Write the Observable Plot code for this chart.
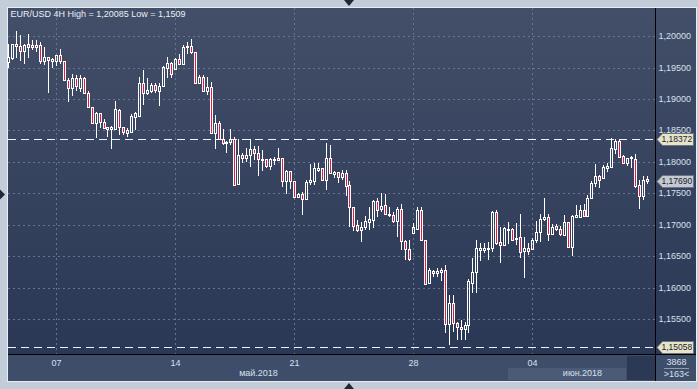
<!DOCTYPE html>
<html>
<head>
<meta charset="utf-8">
<script src="https://cdn.jsdelivr.net/npm/d3@7"></script>
<script src="https://cdn.jsdelivr.net/npm/@observablehq/plot@0.6"></script>
<style>
  html, body { margin: 0; padding: 0; background: #c2cdd9; }
  #chart { width: 698px; height: 389px; overflow: hidden; }
</style>
</head>
<body>
<div id="chart"></div>
<script>
// ---- data (EUR/USD, 4H candles, 3 May – 8 Jun 2018) ----
const symbol = "EUR/USD";
const timeframe = "4H";
const open = [
1.1959,1.1965,1.1987,1.1984,1.1977,1.1987,1.1986,1.1982,1.1986,1.1961,
1.1966,1.1960,1.1960,1.1970,1.1960,1.1930,1.1918,1.1933,1.1918,1.1934,
1.1909,1.1887,1.1862,1.1877,1.1863,1.1853,1.1853,1.1853,1.1883,1.1855,
1.1851,1.1847,1.1871,1.1873,1.1925,1.1909,1.1913,1.1922,1.1913,1.1920,
1.1950,1.1957,1.1947,1.1963,1.1956,1.1982,1.1984,1.1974,1.1926,1.1935,
1.1913,1.1919,1.1846,1.1862,1.1837,1.1832,1.1831,1.1837,1.1765,1.1811,
1.1807,1.1811,1.1820,1.1814,1.1803,1.1804,1.1794,1.1803,1.1806,1.1806,
1.1769,1.1785,1.1769,1.1745,1.1749,1.1741,1.1768,1.1770,1.1787,1.1790,
1.1772,1.1807,1.1781,1.1784,1.1776,1.1782,1.1763,1.1728,1.1700,1.1692,
1.1697,1.1705,1.1708,1.1738,1.1725,1.1732,1.1718,1.1716,1.1707,1.1726,
1.1675,1.1661,1.1687,1.1693,1.1724,1.1676,1.1607,1.1627,1.1623,1.1626,
1.1628,1.1542,1.1576,1.1545,1.1538,1.1534,1.1541,1.1608,1.1626,1.1660,
1.1660,1.1662,1.1664,1.1721,1.1673,1.1668,1.1692,1.1693,1.1677,1.1681,
1.1659,1.1664,1.1661,1.1676,1.1689,1.1709,1.1713,1.1686,1.1698,1.1693,
1.1684,1.1704,1.1665,1.1713,1.1713,1.1724,1.1714,1.1742,1.1766,1.1777,
1.1774,1.1790,1.1792,1.1821,1.1833,1.1809,1.1799,1.1806,1.1804,1.1763,
1.1746,1.1773];
const high = [
1.1987,1.1988,1.20085,1.2002,1.1988,1.2003,1.1994,1.1994,1.1990,1.1983,
1.1967,1.1965,1.1970,1.1979,1.1960,1.1933,1.1939,1.1938,1.1938,1.1935,
1.1912,1.1888,1.1879,1.1878,1.1869,1.1856,1.1857,1.1897,1.1884,1.1856,
1.1854,1.1876,1.1880,1.1935,1.1946,1.1933,1.1925,1.1925,1.1925,1.1952,
1.1967,1.1959,1.1965,1.1971,1.1986,1.1991,1.1995,1.1975,1.1938,1.1938,
1.1935,1.1927,1.1874,1.1865,1.1852,1.1833,1.1853,1.1839,1.1837,1.1814,
1.1822,1.1837,1.1825,1.1825,1.1819,1.1805,1.1806,1.1808,1.1822,1.1806,
1.1787,1.1786,1.1769,1.1750,1.1753,1.1772,1.1796,1.1798,1.1798,1.1790,
1.1830,1.1827,1.1786,1.1784,1.1787,1.1787,1.1769,1.1728,1.1708,1.1705,
1.1714,1.1729,1.1740,1.1742,1.1750,1.1749,1.1728,1.1721,1.1729,1.1734,
1.1676,1.1676,1.1703,1.1728,1.1728,1.1676,1.1631,1.1628,1.1631,1.1631,
1.1636,1.1589,1.1589,1.1546,1.1549,1.1546,1.1614,1.1647,1.1676,1.1671,
1.1672,1.1673,1.1722,1.1724,1.1697,1.1697,1.1705,1.1695,1.1703,1.1717,
1.1681,1.1671,1.1679,1.1706,1.1717,1.1743,1.1718,1.1701,1.1701,1.1698,
1.1716,1.1705,1.1716,1.1731,1.1732,1.1733,1.1747,1.1770,1.1796,1.1779,
1.1795,1.1799,1.1838,1.1837,1.1837,1.1811,1.1807,1.1810,1.1812,1.1771,
1.1777,1.1777];
const low = [
1.1949,1.1962,1.1965,1.1960,1.1956,1.1965,1.1978,1.1975,1.1956,1.1954,
1.1910,1.1950,1.1952,1.1956,1.1928,1.1896,1.1904,1.1912,1.1911,1.1908,
1.1886,1.1861,1.1838,1.1854,1.1852,1.1840,1.1821,1.1853,1.1843,1.1843,
1.1840,1.1846,1.1851,1.1871,1.1890,1.1906,1.1909,1.1909,1.1889,1.1919,
1.1933,1.1933,1.1946,1.1955,1.1954,1.1971,1.1971,1.1925,1.1925,1.1912,
1.1906,1.1846,1.1821,1.1835,1.1827,1.1815,1.1827,1.1762,1.1763,1.1798,
1.1800,1.1792,1.1803,1.1777,1.1785,1.1791,1.1787,1.1795,1.1802,1.1761,
1.1749,1.1757,1.1742,1.1742,1.1716,1.1740,1.1763,1.1763,1.1784,1.1771,
1.1755,1.1781,1.1774,1.1767,1.1771,1.1746,1.1697,1.1690,1.1689,1.1673,
1.1692,1.1692,1.1695,1.1713,1.1721,1.1716,1.1713,1.1703,1.1681,1.1660,
1.1645,1.1643,1.1686,1.1693,1.1675,1.1605,1.1606,1.1617,1.1617,1.1611,
1.1529,1.1509,1.1530,1.1518,1.1518,1.1518,1.1529,1.1592,1.1592,1.1642,
1.1655,1.1645,1.1657,1.1668,1.1640,1.1667,1.1669,1.1674,1.1668,1.1647,
1.1615,1.1652,1.1660,1.1671,1.1673,1.1706,1.1674,1.1684,1.1690,1.1683,
1.1683,1.1664,1.1651,1.1712,1.1712,1.1713,1.1713,1.1741,1.1761,1.1759,
1.1773,1.1784,1.1791,1.1812,1.1807,1.1796,1.1794,1.1791,1.1758,1.1726,
1.1740,1.1765];
const close = [
1.1967,1.1987,1.1984,1.1977,1.1986,1.1983,1.1982,1.1985,1.1961,1.1967,
1.1962,1.1963,1.1970,1.1960,1.1930,1.1918,1.1934,1.1921,1.1934,1.1909,
1.1887,1.1862,1.1877,1.1863,1.1854,1.1855,1.1856,1.1884,1.1855,1.1848,
1.1846,1.1873,1.1877,1.1925,1.1909,1.1914,1.1922,1.1914,1.1921,1.1951,
1.1957,1.1939,1.1963,1.1956,1.1982,1.1984,1.1974,1.1926,1.1935,1.1913,
1.1919,1.1846,1.1862,1.1836,1.1830,1.1830,1.1837,1.1763,1.1811,1.1807,
1.1811,1.1820,1.1814,1.1804,1.1805,1.1794,1.1804,1.1805,1.1803,1.1769,
1.1785,1.1769,1.1745,1.1749,1.1741,1.1768,1.1771,1.1790,1.1790,1.1772,
1.1807,1.1782,1.1784,1.1776,1.1782,1.1762,1.1728,1.1698,1.1692,1.1697,
1.1707,1.1709,1.1738,1.1724,1.1730,1.1718,1.1715,1.1707,1.1726,1.1675,
1.1661,1.1646,1.1696,1.1724,1.1676,1.1606,1.1628,1.1623,1.1627,1.1628,
1.1542,1.1576,1.1545,1.1538,1.1534,1.1541,1.1611,1.1626,1.1663,1.1664,
1.1663,1.1664,1.1721,1.1671,1.1668,1.1695,1.1694,1.1676,1.1680,1.1657,
1.1664,1.1659,1.1676,1.1689,1.1709,1.1713,1.1686,1.1697,1.1693,1.1685,
1.1704,1.1665,1.1714,1.1716,1.1724,1.1714,1.1742,1.1766,1.1777,1.1772,
1.1792,1.1794,1.1822,1.1833,1.1808,1.1798,1.1806,1.1808,1.1762,1.1746,
1.1771,1.1769];

const yTicks = [1.155, 1.16, 1.165, 1.17, 1.175, 1.18, 1.185, 1.19, 1.195, 1.2];
const weekIdx = [12, 42, 72, 102, 132];          // first bar of each Monday
const weekLabels = ["07", "14", "21", "28", "04"];
const monthStart = [0, 126];                     // first bar of each month
const monthLabels = ["май.2018", "июн.2018"];
const levels = [1.18372, 1.15058];               // horizontal dashed lines
const barsInfo = ["3868", ">163<"];

// ---- helpers ----
const idx = d3.range(open.length);
const xDomain = [-0.08, 163.02];
const yDomain = [1.1495, 1.20445];
const fmt5 = v => v.toFixed(5).replace(".", ",");
const fmtRaw = v => String(v).replace(".", ",");
const title = `${symbol} ${timeframe} High = ${fmtRaw(d3.max(high))} Low = ${fmtRaw(d3.min(low))}`;
const monthMid = monthStart.map((s, k) => {
  const a = Math.max(s, xDomain[0]);
  const b = k + 1 < monthStart.length ? monthStart[k + 1] : xDomain[1];
  return (a + b) / 2;
});
const lastClose = close[close.length - 1];
const txt = "#d6e0ee";

function panels(index, scales, values, dims) {
  const W = dims.width, H = dims.height;
  const L = dims.marginLeft, T = dims.marginTop, X1 = W - dims.marginRight, Y1 = H - dims.marginBottom;
  const R = W - 2, B = H - 8;
  const g = d3.create("svg:g");
  const grad = g.append("defs").append("linearGradient").attr("id", "pg")
    .attr("x1", 0).attr("x2", 0).attr("y1", 0).attr("y2", 1);
  grad.append("stop").attr("offset", "0").attr("stop-color", "#434f68");
  grad.append("stop").attr("offset", "1").attr("stop-color", "#2a3755");
  g.append("rect").attr("x", L - 0.5).attr("y", T - 0.5).attr("width", R - L + 1).attr("height", B - T + 1)
    .attr("fill", "none").attr("stroke", "#e8edf3");
  g.append("rect").attr("x", L).attr("y", T).attr("width", X1 - L).attr("height", Y1 - T).attr("fill", "url(#pg)");
  g.append("rect").attr("x", X1).attr("y", T).attr("width", R - X1).attr("height", Y1 - T).attr("fill", "url(#pg)");
  g.append("rect").attr("x", L).attr("y", Y1).attr("width", R - L).attr("height", B - Y1).attr("fill", "#3e4d69");
  const mx = Math.round(scales.x(monthStart[1]));
  g.append("rect").attr("x", mx).attr("y", Y1 + 14).attr("width", X1 - 29 - mx).attr("height", B - 1 - (Y1 + 14))
    .attr("fill", "#4b5a77");
  g.append("rect").attr("x", X1 - 28).attr("y", Y1 + 2).attr("width", 28).attr("height", B - Y1 - 3)
    .attr("fill", "#2c3954");
  return g.node();
}

function separators(index, scales, values, dims) {
  const W = dims.width, H = dims.height;
  const L = dims.marginLeft, T = dims.marginTop, X1 = W - dims.marginRight, Y1 = H - dims.marginBottom;
  const R = W - 2, B = H - 8;
  const g = d3.create("svg:g");
  g.append("line").attr("x1", X1 + 0.5).attr("x2", X1 + 0.5).attr("y1", T).attr("y2", B).attr("stroke", "#000");
  g.append("line").attr("x1", L).attr("x2", R).attr("y1", Y1 + 0.5).attr("y2", Y1 + 0.5).attr("stroke", "#000");
  g.append("line").attr("x1", X1 + 9).attr("x2", X1 + 34).attr("y1", Y1 + 14.5).attr("y2", Y1 + 14.5).attr("stroke", "#8d9ab0");
  // window arrows
  const cx = W / 2, cy = H / 2;
  g.append("path").attr("d", `M${cx - 5},0L${cx + 5},0L${cx},6Z`).attr("fill", "#1e2638");
  g.append("path").attr("d", `M${cx - 5},${H}L${cx + 5},${H}L${cx},${H - 6}Z`).attr("fill", "#1e2638");
  g.append("path").attr("d", `M0,${cy - 5}L0,${cy + 5}L5,${cy}Z`).attr("fill", "#1e2638");
  return g.node();
}

function tags(index, scales, values, dims) {
  const W = dims.width, X1 = W - dims.marginRight, R = W - 2;
  const items = [
    {v: levels[0], fill: "#e7e4c8"},
    {v: lastClose, fill: "#c5c9d1"},
    {v: levels[1], fill: "#e7e4c8"}
  ];
  const g = d3.create("svg:g");
  for (const it of items) {
    const y = Math.round(scales.y(it.v)) + 0.5;
    g.append("path")
      .attr("d", `M${X1 + 2},${y}L${X1 + 7.5},${y - 6}L${R - 2.5},${y - 6}L${R - 2.5},${y + 6}L${X1 + 7.5},${y + 6}Z`)
      .attr("fill", it.fill).attr("stroke", "#6d7480");
    g.append("text").attr("x", X1 + 6.5).attr("y", y).attr("dy", "0.35em")
      .attr("text-anchor", "start")
      .attr("font-size", 8.5).attr("fill", "#1c2230").text(fmt5(it.v));
  }
  return g.node();
}

const chart = Plot.plot({
  width: 698,
  height: 389,
  marginTop: 8,
  marginLeft: 8,
  marginRight: 43,
  marginBottom: 35,
  style: {background: "#c2cdd9", fontFamily: "'Liberation Sans', Arial, sans-serif", fontSize: "9px", overflow: "visible"},
  x: {domain: xDomain, round: true},
  y: {domain: yDomain, round: true},
  marks: [
    panels,
    Plot.gridY({ticks: yTicks, stroke: "#65748f", strokeOpacity: 1, strokeDasharray: "2,3"}),
    Plot.gridX({ticks: weekIdx, stroke: "#65748f", strokeOpacity: 1, strokeDasharray: "2,3"}),
    Plot.ruleY(levels, {stroke: "#eef2f7", strokeDasharray: "8,5"}),
    Plot.ruleX(idx, {x: i => i, y1: i => high[i], y2: i => Math.max(open[i], close[i]), stroke: "#ffffff"}),
    Plot.ruleX(idx, {x: i => i, y1: i => Math.min(open[i], close[i]), y2: i => low[i], stroke: "#ffffff"}),
    Plot.rect(idx, {
      x1: i => i, x2: i => i,
      y1: i => open[i], y2: i => close[i],
      insetLeft: -0.5, insetRight: -1.5, insetTop: 0.5, insetBottom: -0.5,
      fill: i => close[i] < open[i] ? "#e8173f" : "none",
      stroke: "#ffffff"
    }),
    Plot.axisY({anchor: "right", ticks: yTicks, tickFormat: fmt5, tickSize: 0, tickPadding: 3, label: null, color: txt}),
    Plot.axisX({anchor: "bottom", ticks: weekIdx, tickFormat: d => weekLabels[weekIdx.indexOf(d)], tickSize: 0, tickPadding: 5, label: null, color: txt}),
    Plot.text(monthLabels, {x: (d, i) => monthMid[i], frameAnchor: "bottom", dy: 19, lineAnchor: "middle", fill: txt}),
    Plot.text([title], {frameAnchor: "top-left", dx: 2, dy: 6, textAnchor: "start", lineAnchor: "middle", fill: "#e9eef5"}),
    Plot.text([barsInfo[0]], {frameAnchor: "bottom-right", dx: 21, dy: 8, textAnchor: "middle", lineAnchor: "middle", fill: txt}),
    Plot.text([barsInfo[1]], {frameAnchor: "bottom-right", dx: 21, dy: 20, textAnchor: "middle", lineAnchor: "middle", fill: txt}),
    separators,
    tags
  ]
});
document.getElementById("chart").appendChild(chart);
</script>
</body>
</html>
